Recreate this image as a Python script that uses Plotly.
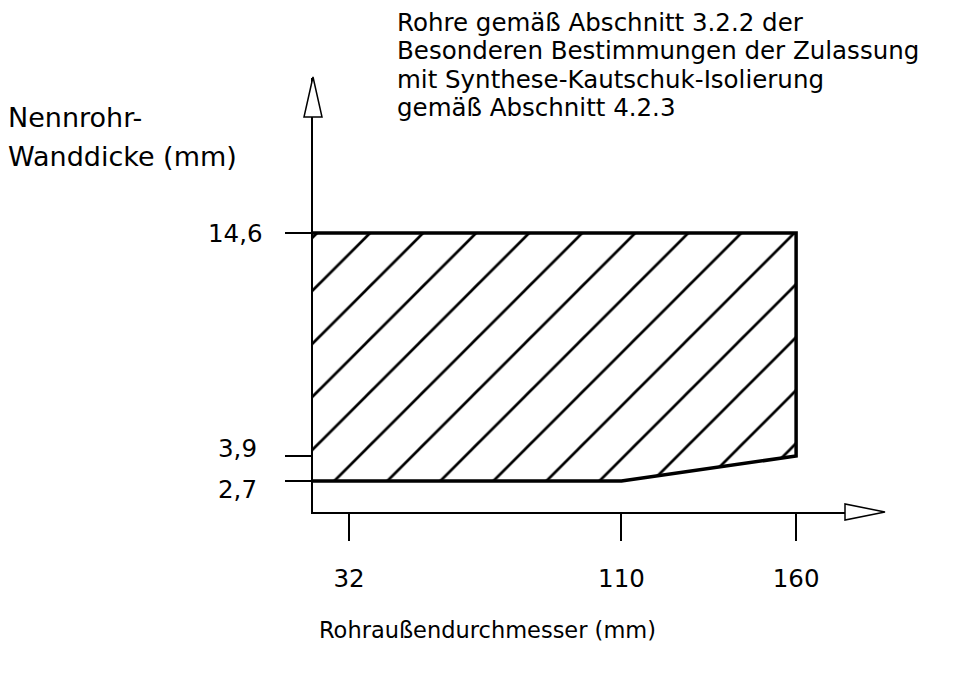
import plotly.graph_objects as go

# ---- data ----
diameter_breaks = [110, 160]          # Rohraußendurchmesser (mm) where the lower bound changes
wall_lower = [2.7, 3.9]               # lower wall-thickness bound at the breakpoints
wall_upper = 14.6                     # upper wall-thickness bound
x_tick_vals = [32, 110, 160]
x_tick_text = ["32", "110", "160"]
y_tick_vals = [14.6, 3.9, 2.7]
y_tick_text = ["14,6", "3,9", "2,7"]
title_lines = [
    "Rohre gemäß Abschnitt 3.2.2 der",
    "Besonderen Bestimmungen der Zulassung",
    "mit Synthese-Kautschuk-Isolierung",
    "gemäß Abschnitt 4.2.3",
]
y_title_lines = ["Nennrohr-", "Wanddicke (mm)"]
x_title = "Rohraußendurchmesser (mm)"

# ---- layout geometry (reference page pixels; the page body adds an 8px margin) ----
OFF = 8
PLOT_L, PLOT_R, PLOT_T, PLOT_B = 313, 845, 78, 512    # plot area in page pixels
AXIS_TIP_Y, AXIS_HEAD_Y = 77, 117                     # y-axis arrowhead
PW, PH = PLOT_R - PLOT_L, PLOT_B - PLOT_T
W, H = 966 - 2 * OFF, 674 - 2 * OFF
ML, MT = PLOT_L - OFF, PLOT_T - OFF
MR, MB = W - ML - PW, H - MT - PH
X_RANGE = [21.7, 174.0]
Y_RANGE = [1.2125, 22.04]
FONT = "DejaVu Sans, Verdana, sans-serif"


def px(x):
    return (x - PLOT_L) / PW


def py(y):
    return (PLOT_B - y) / PH


x_start = X_RANGE[0]
poly_x = [x_start, diameter_breaks[0], diameter_breaks[1], diameter_breaks[1], x_start]
poly_y = [wall_lower[0], wall_lower[0], wall_lower[1], wall_upper, wall_upper]

fig = go.Figure()

# hatched region
fig.add_trace(go.Scatter(
    x=poly_x, y=poly_y, mode="lines", fill="toself",
    fillcolor="white",
    fillpattern=dict(shape="/", size=37.5, solidity=0.072, fgcolor="black",
                     fgopacity=1, bgcolor="white"),
    line=dict(width=0, color="rgba(0,0,0,0)"),
    hoverinfo="skip", showlegend=False,
))
# thick boundary (open on the axis side)
fig.add_trace(go.Scatter(
    x=poly_x, y=poly_y, mode="lines",
    line=dict(width=3.5, color="black"),
    hoverinfo="skip", showlegend=False,
))

fig.update_xaxes(
    range=X_RANGE, showline=True, linecolor="black", linewidth=1.5,
    ticks="outside", ticklen=27, tickwidth=1.5, tickcolor="black",
    tickvals=x_tick_vals, ticktext=x_tick_text,
    tickfont=dict(family=FONT, size=24.5, color="black"),
    ticklabelstandoff=17,
    showgrid=False, zeroline=False, fixedrange=True,
)
fig.update_yaxes(
    range=Y_RANGE, showline=True, linecolor="black", linewidth=1.5,
    ticks="outside", ticklen=26, tickwidth=1.5, tickcolor="black",
    tickvals=y_tick_vals, showticklabels=False,
    showgrid=False, zeroline=False, fixedrange=True,
)

annotations = []
# y tick labels (placed individually, as in the drawing)
y_label_shift = {14.6: 0, 3.9: 8, 2.7: -8}
y_label_right = {14.6: 264, 3.9: 258, 2.7: 258}
for v, t in zip(y_tick_vals, y_tick_text):
    annotations.append(dict(
        text=t, xref="paper", x=0, xshift=y_label_right[v] - PLOT_L, xanchor="right",
        yref="y", y=v, yshift=y_label_shift[v], yanchor="middle", borderpad=0,
        showarrow=False, font=dict(family=FONT, size=24.5, color="black"),
    ))
# title block
for i, line in enumerate(title_lines):
    cy = 22 + 28.6 * i
    annotations.append(dict(
        text=line, xref="paper", x=0, xshift=396 - PLOT_L, xanchor="left",
        yref="paper", y=1, yshift=PLOT_T - cy, yanchor="middle", borderpad=0,
        showarrow=False, font=dict(family=FONT, size=24.5, color="black"),
    ))
# y axis title
for i, line in enumerate(y_title_lines):
    cy = 117 + 39 * i
    annotations.append(dict(
        text=line, xref="paper", x=0, xshift=7 - PLOT_L, xanchor="left",
        yref="paper", y=1, yshift=PLOT_T - cy, yanchor="middle", borderpad=0,
        showarrow=False, font=dict(family=FONT, size=27, color="black"),
    ))
# x axis title
annotations.append(dict(
    text=x_title, xref="paper", x=0, xshift=487 - PLOT_L, xanchor="center",
    yref="paper", y=0, yshift=PLOT_B - 630, yanchor="middle", borderpad=0,
    showarrow=False, font=dict(family=FONT, size=22.5, color="black"),
))

# hollow arrowheads at the axis ends (white fill hides the axis line inside)
y_arrow = "M {:.5f},{:.5f} L {:.5f},{:.5f} L {:.5f},{:.5f} Z".format(
    px(PLOT_L), py(AXIS_TIP_Y), px(PLOT_L - 9), py(AXIS_HEAD_Y), px(PLOT_L + 9), py(AXIS_HEAD_Y))
x_arrow = "M {:.5f},{:.5f} L {:.5f},{:.5f} L {:.5f},{:.5f} Z".format(
    px(885), py(PLOT_B), px(PLOT_R), py(PLOT_B - 8), px(PLOT_R), py(PLOT_B + 8))
shapes = [
    dict(type="path", xref="paper", yref="paper", path=y_arrow,
         fillcolor="white", line=dict(color="black", width=1.5), layer="above"),
    dict(type="path", xref="paper", yref="paper", path=x_arrow,
         fillcolor="white", line=dict(color="black", width=1.5), layer="above"),
]

fig.update_layout(
    width=W, height=H,
    margin=dict(l=ML, r=MR, t=MT, b=MB, pad=0),
    paper_bgcolor="white", plot_bgcolor="white",
    showlegend=False, hovermode=False,
    annotations=annotations, shapes=shapes,
    font=dict(family=FONT, color="black"),
)

fig.write_html("out.html", config={"displayModeBar": False})
